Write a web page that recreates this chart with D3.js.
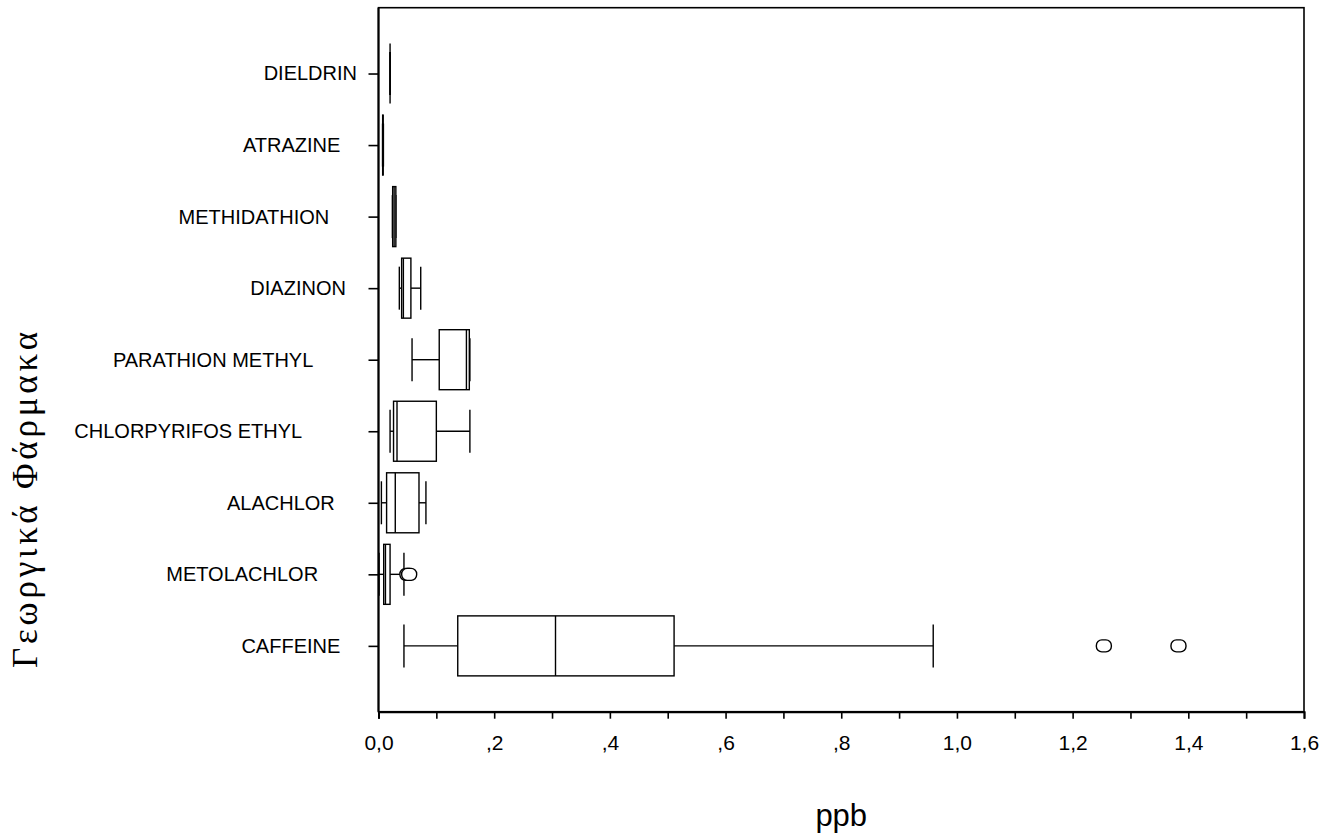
<!DOCTYPE html>
<html>
<head>
<meta charset="utf-8">
<script src="https://cdn.jsdelivr.net/npm/d3@7"></script>
<style>
  html, body { margin: 0; padding: 0; background: #fff; }
  svg { display: block; }
  text { white-space: pre; }
</style>
</head>
<body>
<svg id="chart" width="1319" height="836"></svg>
<script>
// Pesticide concentrations (ppb) per compound — box-plot summaries
const categories = ["DIELDRIN", "ATRAZINE", "METHIDATHION", "DIAZINON", "PARATHION METHYL",
                    "CHLORPYRIFOS ETHYL", "ALACHLOR", "METOLACHLOR", "CAFFEINE"];
// value labels as stored, with their trailing padding
const categoryLabels = ["DIELDRIN", "ATRAZINE   ", "METHIDATHION     ", "DIAZINON  ", "PARATHION METHYL        ",
                        "CHLORPYRIFOS ETHYL          ", "ALACHLOR    ", "METOLACHLOR       ", "CAFFEINE   "];
const whiskerLow  = [0.020, 0.0070, 0.0240, 0.036, 0.058, 0.020, 0.005, 0.001, 0.044];
const quartile1   = [0.020, 0.0072, 0.0245, 0.040, 0.105, 0.026, 0.014, 0.009, 0.137];
const medians     = [0.020, 0.0076, 0.0270, 0.043, 0.152, 0.032, 0.029, 0.012, 0.306];
const quartile3   = [0.020, 0.0080, 0.0300, 0.056, 0.157, 0.100, 0.070, 0.020, 0.511];
const whiskerHigh = [0.020, 0.0085, 0.0300, 0.073, 0.158, 0.158, 0.082, 0.044, 0.959];
const outliers    = [[], [], [], [], [], [], [], [0.050, 0.053], [1.254, 1.383]];

const tickValues = [0, 0.2, 0.4, 0.6, 0.8, 1.0, 1.2, 1.4, 1.6];
const tickLabels = ["0,0", ",2", ",4", ",6", ",8", "1,0", "1,2", "1,4", "1,6"];
const minorTickValues = d3.range(0, 17).map(i => i / 10);

const xTitle = "ppb";
const yTitle = "Γεωργικά Φάρμακα";

const svg = d3.select("#chart");
const plot = { left: 378.5, top: 7.7, right: 1304, bottom: 711.7 };

const x = d3.scaleLinear().domain([0, 1.6]).range([plot.left, plot.right]);
const y = d3.scalePoint().domain(categories).range([plot.top, plot.bottom]).padding(0.92);

const boxH = 60, capH = 43;
const ink = "#000";
const sans = "'Liberation Sans', Arial, sans-serif";

// plot frame
svg.append("rect")
  .attr("x", plot.left).attr("y", plot.top)
  .attr("width", plot.right - plot.left).attr("height", plot.bottom - plot.top)
  .attr("fill", "none").attr("stroke", ink).attr("stroke-width", 1.6);

// x axis: ticks every 0.1, labels every 0.2
const xAxis = d3.axisBottom(x)
  .tickValues(minorTickValues)
  .tickSize(7)
  .tickFormat(d => {
    const i = tickValues.findIndex(v => Math.abs(v - d) < 1e-9);
    return i >= 0 ? tickLabels[i] : "";
  });
const gx = svg.append("g").attr("transform", `translate(0,${plot.bottom})`).call(xAxis);
gx.select(".domain").attr("stroke-width", 2);
gx.selectAll(".tick line").attr("stroke-width", 1.6);
gx.selectAll(".tick text")
  .attr("y", 23).attr("dy", "0.71em")
  .style("font-family", sans)
  .style("font-size", "21px").attr("fill", ink);

// y axis: category ticks pointing left of the frame
const yAxis = d3.axisLeft(y).tickSize(10).tickPadding(11.5)
  .tickFormat(d => categoryLabels[categories.indexOf(d)]);
const gy = svg.append("g").attr("transform", `translate(${plot.left},0)`).call(yAxis);
gy.select(".domain").attr("stroke-width", 2).attr("d", `M0,${plot.top}V${plot.bottom}`);
gy.selectAll(".tick line").attr("stroke-width", 1.6);
gy.selectAll(".tick text")
  .style("font-family", sans)
  .style("font-size", "20px").attr("fill", ink);

// boxes
const rows = categories.map((c, i) => ({
  c, lo: whiskerLow[i], q1: quartile1[i], med: medians[i], q3: quartile3[i], hi: whiskerHigh[i], out: outliers[i]
}));

const g = svg.append("g").attr("fill", "none").attr("stroke", ink).attr("stroke-width", 1.4);
const row = g.selectAll("g.box").data(rows).join("g").attr("class", "box");

// whisker lines
row.append("line")
  .attr("x1", d => x(d.lo)).attr("x2", d => x(d.q1))
  .attr("y1", d => y(d.c)).attr("y2", d => y(d.c));
row.append("line")
  .attr("x1", d => x(d.q3)).attr("x2", d => x(d.hi))
  .attr("y1", d => y(d.c)).attr("y2", d => y(d.c));
// whisker caps
row.append("line")
  .attr("x1", d => x(d.lo)).attr("x2", d => x(d.lo))
  .attr("y1", d => y(d.c) - capH / 2).attr("y2", d => y(d.c) + capH / 2);
row.append("line")
  .attr("x1", d => x(d.hi)).attr("x2", d => x(d.hi))
  .attr("y1", d => y(d.c) - capH / 2).attr("y2", d => y(d.c) + capH / 2);
// box
row.append("rect")
  .attr("x", d => x(d.q1)).attr("width", d => x(d.q3) - x(d.q1))
  .attr("y", d => y(d.c) - boxH / 2).attr("height", boxH)
  .attr("fill", "#fff");
// median
row.append("line")
  .attr("x1", d => x(d.med)).attr("x2", d => x(d.med))
  .attr("y1", d => y(d.c) - boxH / 2).attr("y2", d => y(d.c) + boxH / 2);
// outliers
row.selectAll("rect.out").data(d => d.out.map(v => ({ v, c: d.c }))).join("rect")
  .attr("class", "out")
  .attr("x", d => x(d.v) - 7.5).attr("width", 15)
  .attr("y", d => y(d.c) - 6).attr("height", 12)
  .attr("rx", 5.5).attr("ry", 5.5)
  .attr("fill", "#fff");

// axis titles
svg.append("text")
  .attr("x", (plot.left + plot.right) / 2).attr("y", 826)
  .attr("text-anchor", "middle")
  .style("font-family", sans)
  .style("font-size", "31px").attr("fill", ink)
  .text(xTitle);

svg.append("text")
  .attr("transform", `translate(37,500) rotate(-90)`)
  .attr("text-anchor", "middle")
  .attr("textLength", 336).attr("lengthAdjust", "spacing")
  .style("font-family", "'Liberation Serif', 'Times New Roman', serif")
  .style("font-size", "35px").attr("fill", ink)
  .text(yTitle);
</script>
</body>
</html>
